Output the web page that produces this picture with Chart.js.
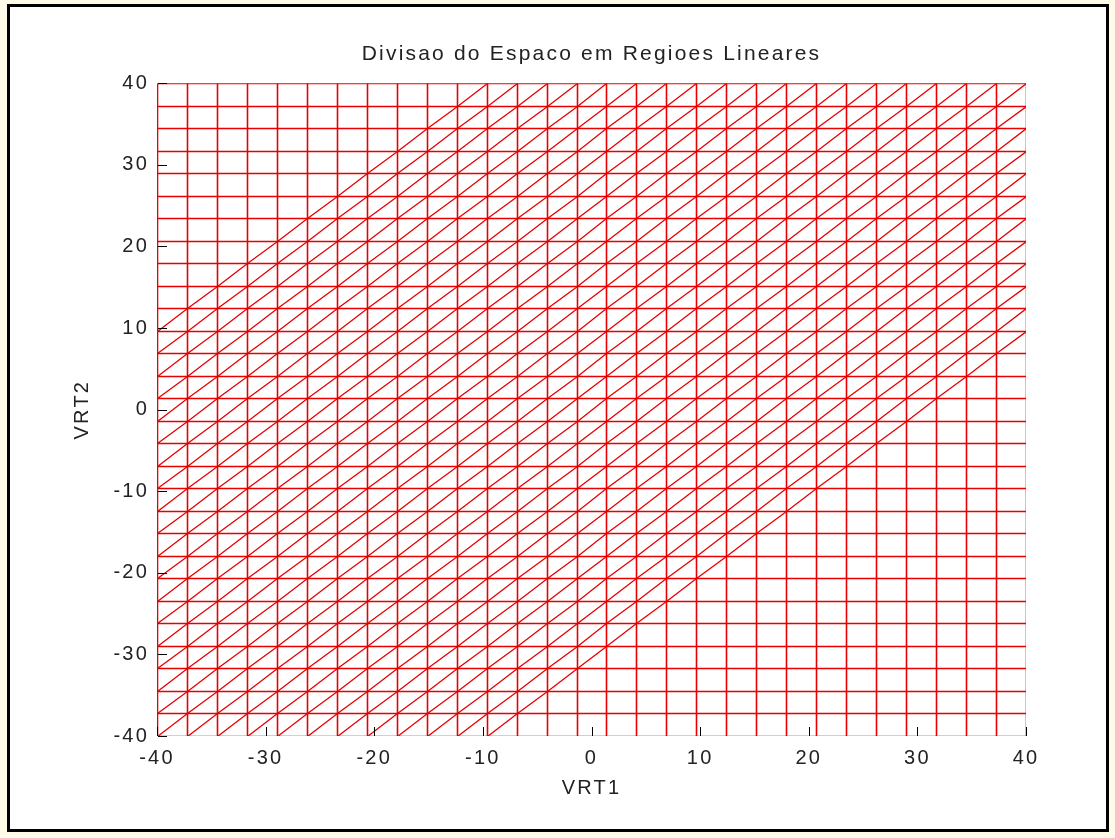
<!DOCTYPE html>
<html>
<head>
<meta charset="utf-8">
<title>Divisao do Espaco em Regioes Lineares</title>
<script src="https://cdn.jsdelivr.net/npm/chart.js@4/dist/chart.umd.min.js"></script>
<style>
  html, body { margin: 0; padding: 0; background: #fffbe8; width: 1115px; height: 838px; overflow: hidden; }
  #frame { position: absolute; left: 7px; top: 4px; width: 1096px; height: 822px; border: 3px solid #000; background: #fff; }
  #wrap { position: absolute; left: 0; top: 0; width: 1115px; height: 838px; }
</style>
</head>
<body>
<div id="frame"></div>
<div id="wrap"><canvas id="c" width="1115" height="838"></canvas></div>
<script>
// Breakpoints of the partition along each input (30 per axis)
const vrt1Breaks = [-40, -37.24, -34.48, -31.72, -28.97, -26.21, -23.45, -20.69, -17.93, -15.17,
  -12.41, -9.66, -6.90, -4.14, -1.38, 1.38, 4.14, 6.90, 9.66, 12.41,
  15.17, 17.93, 20.69, 23.45, 26.21, 28.97, 31.72, 34.48, 37.24, 40];
const vrt2Breaks = [-40, -37.24, -34.48, -31.72, -28.97, -26.21, -23.45, -20.69, -17.93, -15.17,
  -12.41, -9.66, -6.90, -4.14, -1.38, 1.38, 4.14, 6.90, 9.66, 12.41,
  15.17, 17.93, 20.69, 23.45, 26.21, 28.97, 31.72, 34.48, 37.24, 40];
// Diagonal cuts: offset (in breakpoint steps) of the VRT2 index relative to the VRT1 index
const diagonalSteps = [-11, -10, -9, -8, -7, -6, -5, -4, -3, -2, -1, 0, 1, 2, 3, 4, 5, 6, 7, 8,
  9, 10, 11, 12, 13, 14, 15, 16, 17, 18];
// Axis tick labels
const vrt1Ticks = [-40, -30, -20, -10, 0, 10, 20, 30, 40];
const vrt2Ticks = [-40, -30, -20, -10, 0, 10, 20, 30, 40];

const xMin = vrt1Breaks[0], xMax = vrt1Breaks[vrt1Breaks.length - 1];
const yMin = vrt2Breaks[0], yMax = vrt2Breaks[vrt2Breaks.length - 1];

// Vertical region borders (constant VRT1)
const verticalPts = [];
vrt1Breaks.forEach(b => {
  verticalPts.push({ x: b, y: yMin }, { x: b, y: yMax }, { x: b, y: null });
});
// Horizontal region borders (constant VRT2)
const horizontalPts = [];
vrt2Breaks.forEach(b => {
  horizontalPts.push({ x: xMin, y: b }, { x: xMax, y: b }, { x: null, y: null });
});
// Diagonal borders joining grid vertices (i, i + step)
const diagonalPts = [];
diagonalSteps.forEach(s => {
  for (let i = 0; i < vrt1Breaks.length; i++) {
    const j = i + s;
    if (j >= 0 && j < vrt2Breaks.length) diagonalPts.push({ x: vrt1Breaks[i], y: vrt2Breaks[j] });
  }
  diagonalPts.push({ x: null, y: null });
});

const RED = 'rgb(232, 0, 0)';
const lineSet = (data, w) => ({
  data, showLine: true, borderColor: RED, borderWidth: w, pointRadius: 0,
  spanGaps: false, tension: 0, fill: false
});

// Snap line vertices to pixel centres so every border has the same weight
const crispLines = {
  id: 'crispLines',
  beforeDatasetsDraw(chart) {
    chart.data.datasets.forEach((ds, i) => {
      chart.getDatasetMeta(i).data.forEach(p => {
        if (Number.isFinite(p.x)) p.x = Math.round(p.x) + 0.5;
        if (Number.isFinite(p.y)) p.y = Math.round(p.y) + 0.5;
      });
    });
  }
};

// Slightly open letter spacing for all chart text
const spacedText = {
  id: 'spacedText',
  beforeDraw(chart) { chart.ctx.letterSpacing = '2.2px'; }
};

// Inward tick marks on the bottom and left axes
const innerTicks = {
  id: 'innerTicks',
  afterDatasetsDraw(chart) {
    const { ctx, chartArea: a, scales: { x, y } } = chart;
    const len = 9;
    const bottom = Math.round(a.bottom);
    const left = Math.round(a.left);
    ctx.save();
    ctx.strokeStyle = '#000';
    ctx.lineWidth = 1;
    ctx.beginPath();
    vrt1Ticks.forEach(v => {
      const px = Math.round(x.getPixelForValue(v)) + 0.5;
      ctx.moveTo(px, bottom);
      ctx.lineTo(px, bottom - len);
    });
    vrt2Ticks.forEach(v => {
      const py = Math.round(y.getPixelForValue(v)) + 0.5;
      ctx.moveTo(left + 1, py);
      ctx.lineTo(left + 1 + len, py);
    });
    ctx.stroke();
    ctx.restore();
  }
};

const FONT = 'Liberation Sans, Arial, Helvetica, sans-serif';
const SIZE = 20;
const TEXT = '#222';

new Chart(document.getElementById('c'), {
  type: 'scatter',
  data: {
    datasets: [lineSet(diagonalPts, 1.3), lineSet(verticalPts, 1.6), lineSet(horizontalPts, 1.6)]
  },
  options: {
    responsive: false,
    animation: false,
    events: [],
    layout: { padding: { left: 0, right: 89, top: 0, bottom: 0 } },
    plugins: {
      legend: { display: false },
      tooltip: { enabled: false },
      title: {
        display: true,
        text: 'Divisao do Espaco em Regioes Lineares',
        fullSize: false,
        color: TEXT,
        font: { family: FONT, size: 21, weight: 'normal', lineHeight: 1.2 },
        padding: { top: 42, bottom: 16.1 }
      }
    },
    scales: {
      x: {
        type: 'linear',
        min: xMin, max: xMax,
        afterBuildTicks(scale) { scale.ticks = vrt1Ticks.map(v => ({ value: v })); },
        grid: { display: false, drawTicks: false },
        border: { display: false },
        ticks: { color: TEXT, padding: 10, maxRotation: 0, font: { family: FONT, size: SIZE } },
        title: {
          display: true, text: 'VRT1', color: TEXT,
          font: { family: FONT, size: SIZE, lineHeight: 1.2 },
          padding: { top: 0, bottom: 38 }
        },
        afterFit(scale) { scale.height = 102; }
      },
      y: {
        type: 'linear',
        min: yMin, max: yMax,
        afterBuildTicks(scale) { scale.ticks = vrt2Ticks.map(v => ({ value: v })); },
        grid: { display: false, drawTicks: false },
        border: { display: false },
        ticks: { color: TEXT, padding: 8, font: { family: FONT, size: SIZE } },
        title: {
          display: true, text: 'VRT2', color: TEXT,
          font: { family: FONT, size: SIZE, lineHeight: 1.2 },
          padding: { top: 70, bottom: 0 }
        },
        afterFit(scale) { scale.width = 157; }
      }
    }
  },
  plugins: [crispLines, spacedText, innerTicks]
});
</script>
</body>
</html>
